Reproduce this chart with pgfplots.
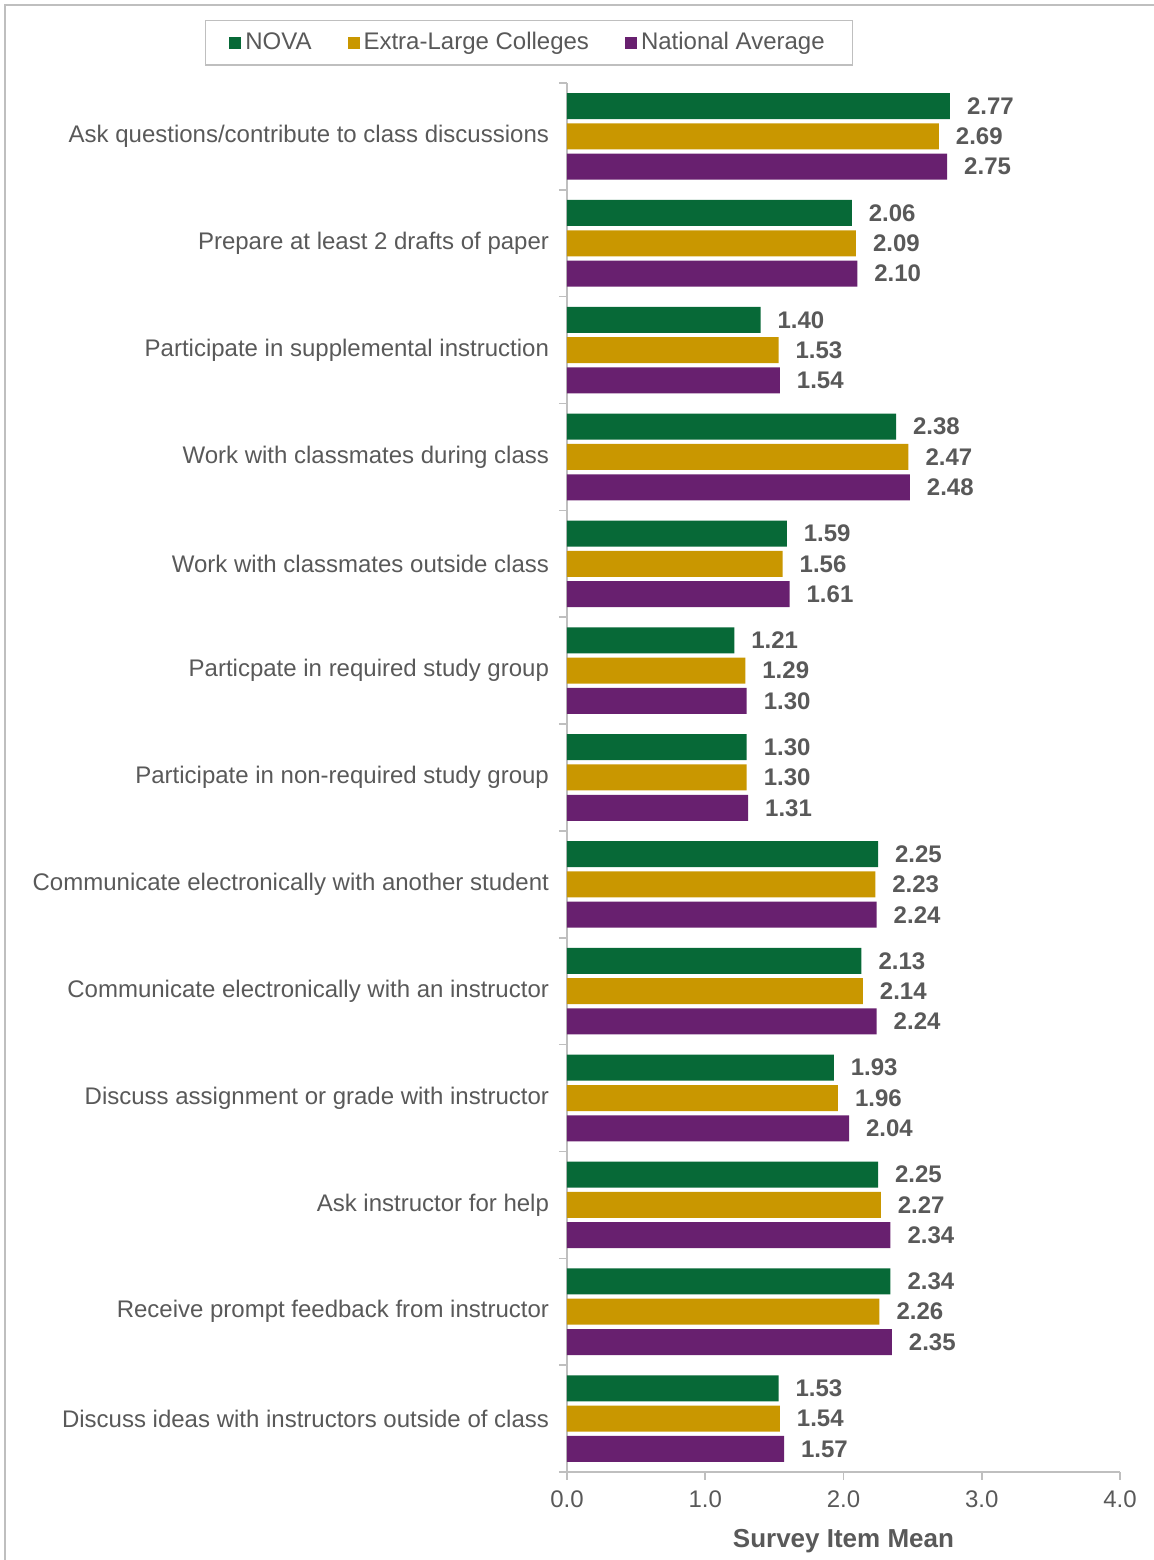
\documentclass[border=0pt]{standalone}
\usepackage{pgfplots}
\pgfplotsset{compat=1.18}
\usepackage{pgfplotstable}
\usepackage{fontspec}
\setmainfont{Liberation Sans}
\definecolor{nova}{HTML}{076937}
\definecolor{xl}{HTML}{C99700}
\definecolor{nat}{HTML}{68206F}
\definecolor{txt}{HTML}{595959}
\definecolor{axgray}{HTML}{BFBFBF}
\pgfplotstableread{
pos nova xl nat
12 2.77 2.69 2.75
11 2.06 2.09 2.10
10 1.40 1.53 1.54
9 2.38 2.47 2.48
8 1.59 1.56 1.61
7 1.21 1.29 1.30
6 1.30 1.30 1.31
5 2.25 2.23 2.24
4 2.13 2.14 2.24
3 1.93 1.96 2.04
2 2.25 2.27 2.34
1 2.34 2.26 2.35
0 1.53 1.54 1.57
}\datatable
\begin{document}
\begin{tikzpicture}[x=1pt,y=1pt]
\useasboundingbox (0,0) rectangle (576.5,780);
\draw[axgray, line width=0.8pt] (2.5,-20) -- (2.5,777.5) -- (600,777.5);
\begin{axis}[
  at={(283.5pt,44pt)}, anchor=south west,
  scale only axis, width=276.5pt, height=694.5pt,
  xmin=0, xmax=4, ymin=-0.5, ymax=12.5,
  xbar, bar width=13pt,
  axis x line*=bottom, axis y line*=left,
  axis line style={axgray, line width=0.8pt},
  every tick/.style={axgray, line width=0.8pt},
  tick align=outside,
  major tick length=4pt, minor tick length=4pt,
  xtick={0,1,2,3,4},
  xticklabel={\pgfmathprintnumber[fixed,fixed zerofill,precision=1,assume math mode=true]{\tick}},
  xticklabel style={text=txt, font=\fontsize{12}{14}\selectfont, yshift=-2pt},
  ytick={0,...,12},
  major y tick style={draw=none},
  minor ytick={-0.5,0.5,...,12.5},
  yticklabels={Discuss ideas with instructors outside of class,
    Receive prompt feedback from instructor,
    Ask instructor for help,
    Discuss assignment or grade with instructor,
    Communicate electronically with an instructor,
    Communicate electronically with another student,
    Participate in non-required study group,
    Particpate in required study group,
    Work with classmates outside class,
    Work with classmates during class,
    Participate in supplemental instruction,
    Prepare at least 2 drafts of paper,
    Ask questions/contribute to class discussions},
  yticklabel style={text=txt, font=\fontsize{12}{14}\selectfont, xshift=-1.5pt},
  xlabel={\textbf{Survey Item Mean}},
  xlabel style={text=txt, font=\fontsize{13}{15}\selectfont, yshift=-4pt},
  point meta=x,
  nodes near coords={\pgfmathprintnumber[fixed,fixed zerofill,precision=2,assume math mode=true]{\pgfplotspointmeta}},
  nodes near coords style={text=txt, font=\bfseries\fontsize{12}{14}\selectfont, anchor=west, xshift=5pt},
  legend columns=3,
  legend style={at={(-0.0687,1.0290)}, anchor=center, draw=axgray, line width=0.8pt,
    font=\fontsize{12}{14}\selectfont, text=txt, inner xsep=12pt, inner ysep=4pt,
    /tikz/every even column/.append style={column sep=16pt}},
  legend image code/.code={\fill (0pt,-3pt) rectangle (6pt,3pt);},
]
\addplot[fill=nova, draw=none, bar shift=15.15pt] table[x=nova, y=pos] {\datatable};
\addplot[fill=xl, draw=none, bar shift=0pt] table[x=xl, y=pos] {\datatable};
\addplot[fill=nat, draw=none, bar shift=-15.15pt] table[x=nat, y=pos] {\datatable};
\legend{NOVA, Extra-Large Colleges, National Average}
\end{axis}
\end{tikzpicture}
\end{document}
